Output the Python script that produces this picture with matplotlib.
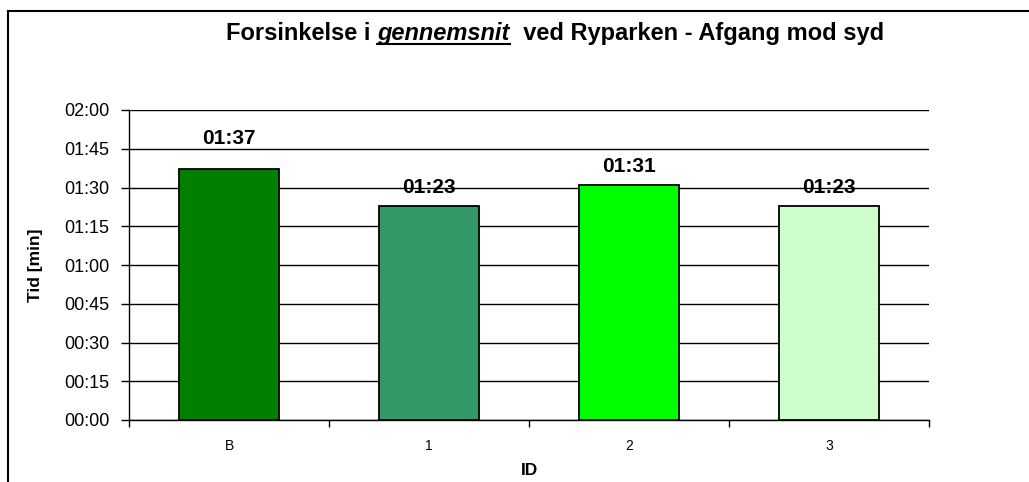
import matplotlib.pyplot as plt
from matplotlib.lines import Line2D
from matplotlib.ticker import FixedLocator, FuncFormatter

plt.rcParams['font.family'] = ['Liberation Sans', 'DejaVu Sans']

# delay in seconds per ID
categories = ["B", "1", "2", "3"]
delay_sec = [97, 83, 91, 83]
value_labels = ["01:37", "01:23", "01:31", "01:23"]
bar_colors = ["#007F00", "#339966", "#00FF00", "#CCFFCC"]
y_ticks = [0, 15, 30, 45, 60, 75, 90, 105, 120]

W, H = 1029, 482
fig = plt.figure(figsize=(W / 100, H / 100), dpi=100)
ax = fig.add_axes([129 / W, 62 / H, 800 / W, 310 / H])

x = list(range(len(categories)))
ax.bar(x, delay_sec, width=0.5, color=bar_colors, edgecolor="black", linewidth=1.3, zorder=3)

ax.set_xlim(-0.5, len(categories) - 0.5)
ax.set_ylim(0, 120)

ax.yaxis.set_major_locator(FixedLocator(y_ticks))
ax.yaxis.set_major_formatter(FuncFormatter(lambda v, p: "%02d:%02d" % (int(v) // 60, int(v) % 60)))
ax.grid(axis="y", color="black", linewidth=1, zorder=0)
ax.tick_params(axis="y", direction="out", length=6, width=1, labelsize=13, pad=8)

ax.set_xticks(x)
ax.set_xticklabels(categories)
ax.tick_params(axis="x", which="major", length=0, labelsize=10, pad=14)
ax.set_xticks([i - 0.5 for i in range(len(categories) + 1)], minor=True)
ax.tick_params(axis="x", which="minor", direction="out", length=5, width=1)

for s in ["top", "right"]:
    ax.spines[s].set_visible(False)
for s in ["left", "bottom"]:
    ax.spines[s].set_linewidth(1)

ax.set_ylabel("Tid [min]", fontsize=12.5, fontweight="bold", labelpad=15)
ax.set_xlabel("ID", fontsize=12.5, fontweight="bold", labelpad=7)

# label gap above bar top, in pixels
offsets = [21, 9, 9, 9]
for xi, v, lab, off in zip(x, delay_sec, value_labels, offsets):
    ax.annotate(lab, (xi, v), xytext=(0, off * 0.72), textcoords="offset points",
                ha="center", va="bottom", fontsize=15, fontweight="bold")

# outer chart frame (left and top edge visible)
fig.add_artist(Line2D([8 / W, 8 / W], [0, 1 - 11 / H], color="black", linewidth=1.5))
fig.add_artist(Line2D([8 / W, 1], [1 - 11 / H, 1 - 11 / H], color="black", linewidth=1.5))

# title with italic underlined word
renderer = fig.canvas.get_renderer()
pieces = [("Forsinkelse i ", "normal"), ("gennemsnit", "italic"), ("  ved Ryparken - Afgang mod syd", "normal")]
ty = 1 - 40 / H
texts = []
for s, style in pieces:
    t = fig.text(0, ty, s, fontsize=17, fontweight="bold", fontstyle=style, va="baseline")
    texts.append(t)
widths = [t.get_window_extent(renderer).width for t in texts]
total = sum(widths)
xpos = 555 - total / 2
for t, w in zip(texts, widths):
    t.set_x(xpos / W)
    if t.get_style() == "italic":
        fig.add_artist(Line2D([xpos / W, (xpos + w) / W], [ty - 4 / H, ty - 4 / H],
                              color="black", linewidth=1.5))
    xpos += w

fig.savefig("out.png", dpi=100)
